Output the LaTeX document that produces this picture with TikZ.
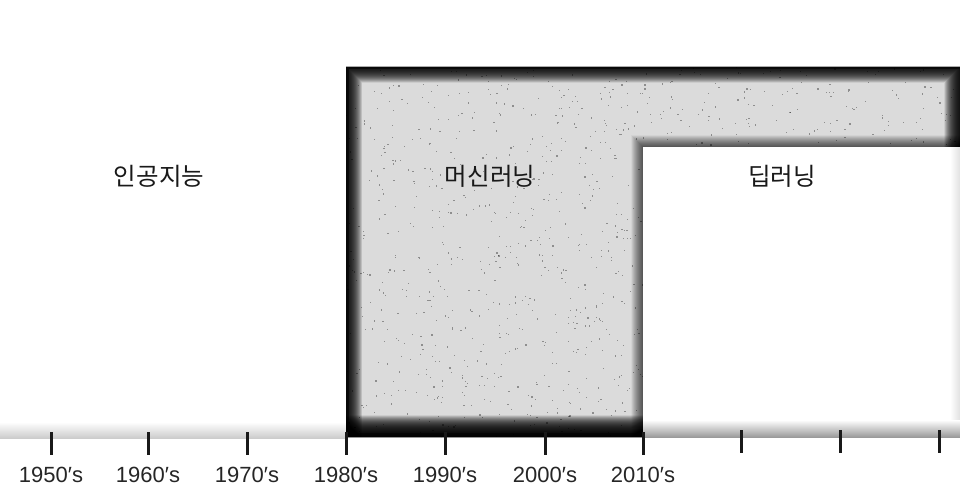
\documentclass[tikz,border=0pt]{standalone}
\usepackage{fontspec}
\setmainfont{Liberation Sans}
\newfontfamily\kofont{Noto Sans CJK KR}
\begin{document}
\begin{tikzpicture}[x=1pt,y=-1pt,
  yearlabel/.style={anchor=base,font=\fontsize{22}{22}\selectfont,text=black!85},
  kolabel/.style={font=\kofont\fontsize{24.5}{24.5}\selectfont,text=black!90},
  tickmark/.style={line width=3pt,black!90},
  speck/.style={fill=black,opacity=0.35}]
\useasboundingbox (0,0) rectangle (960,492);
\fill[white] (0,0) rectangle (960,492);
% faint band along the axis
\shade[top color=white,bottom color=black!20] (0,422) rectangle (346,438);
% machine learning region (L-shaped)
\def\lshape{(346,67) -- (960,67) -- (960,147) -- (643,147) -- (643,437) -- (346,437) -- cycle}
\fill[black!14] \lshape;
\begin{scope}
  \clip \lshape;
  \pgfmathsetseed{7}
  \foreach \i in {1,...,1400}{
    \pgfmathsetmacro\rx{346+rnd*614}
    \pgfmathsetmacro\ry{67+rnd*370}
    \fill[speck] (\rx,\ry) rectangle ++(1.2,1.2);
  }
  % outer edges: strong vignette
  \foreach \i in {1,...,32}{
    \draw[line width=\i pt,black,opacity=0.065,line join=miter]
      (346,437) -- (346,67) -- (960,67) -- (960,147);
  }
  % bottom edge: wider dark band
  \foreach \i in {1,...,44}{
    \draw[line width=\i pt,black,opacity=0.065] (340,437) -- (650,437);
  }
  % inner edges along deep learning box: softer
  \foreach \i in {1,...,24}{
    \draw[line width=\i pt,black,opacity=0.035,line join=miter]
      (960,147) -- (643,147) -- (643,437);
  }
  \draw[line width=5pt,black,opacity=0.55] (346,437) -- (346,67) -- (960,67);
  \draw[line width=8pt,black,opacity=0.5] (340,437) -- (650,437);
\end{scope}
% deep learning region
\fill[white] (643,147) rectangle (960,437);
\begin{scope}
  \clip (643,147) rectangle (960,437);
  \shade[left color=white,right color=black!12] (950,147) rectangle (960,437);
  \shade[top color=white,bottom color=black!42] (643,420) rectangle (960,438);
\end{scope}
% labels
\node[kolabel] (ai) at (159,176) {인공지능};
\node[kolabel] (ml) at (490,176) {머신러닝};
\node[kolabel] (dl) at (782,176) {딥러닝};
% ticks and years
\foreach \x/\lab [count=\k] in {51/1950,148/1960,247/1970,346/1980,445/1990,545/2000,643/2010}{
  \coordinate (t\k) at (\x,432);
  \coordinate (b\k) at (\x,455);
  \draw[tickmark] (t\k) -- (b\k);
  \node[yearlabel] (y\k) at (\x,482) {\lab′s};
}
\foreach \x [count=\k from 8] in {741,840,939}{
  \coordinate (t\k) at (\x,430);
  \coordinate (b\k) at (\x,453);
  \draw[tickmark] (t\k) -- (b\k);
}
\end{tikzpicture}
\end{document}
